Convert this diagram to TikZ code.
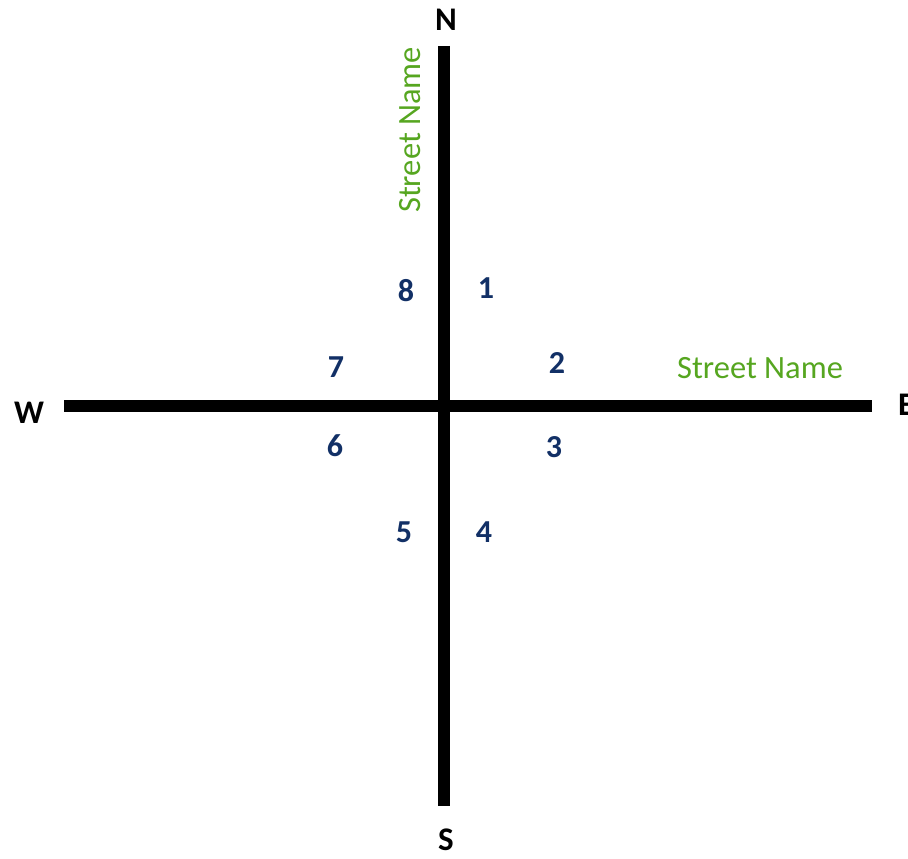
\documentclass[tikz,border=0pt]{standalone}
\usepackage{fontspec}
\setmainfont{Carlito}
\definecolor{navy}{RGB}{18,48,102}
\definecolor{streetgreen}{RGB}{86,166,32}
\begin{document}
\begin{tikzpicture}[x=1pt,y=-1pt,
  road/.style={line width=12pt},
  dir/.style={font=\fontsize{33}{33}\selectfont\bfseries, text=black, inner sep=0pt},
  num/.style={font=\fontsize{32}{32}\selectfont\bfseries, text=navy, inner sep=0pt},
  street/.style={font=\fontsize{32.5}{32.5}\selectfont, text=streetgreen, inner sep=0pt}]
\useasboundingbox (0,0) rectangle (908,859);
\coordinate (ntop) at (444,46);
\coordinate (sbot) at (444,806);
\coordinate (wend) at (64,406);
\coordinate (eend) at (872,406);
\draw[road] (ntop) -- (sbot);
\draw[road] (wend) -- (eend);
\node[dir] (N) at (446,20) {N};
\node[dir] (S) at (446,840) {S};
\node[dir] (W) at (29,413) {W};
\node[dir, anchor=west] (E) at (898,405) {E};
\node[street, rotate=90] (sv) at (410,130) {Street Name};
\node[street] (sh) at (760,368) {Street Name};
\node[num] (n1) at (486,288) {1};
\node[num] (n2) at (557,363) {2};
\node[num] (n3) at (554,447) {3};
\node[num] (n4) at (484,532) {4};
\node[num] (n5) at (404,532) {5};
\node[num] (n6) at (335,446) {6};
\node[num] (n7) at (336,367) {7};
\node[num] (n8) at (406,291) {8};
\end{tikzpicture}
\end{document}
